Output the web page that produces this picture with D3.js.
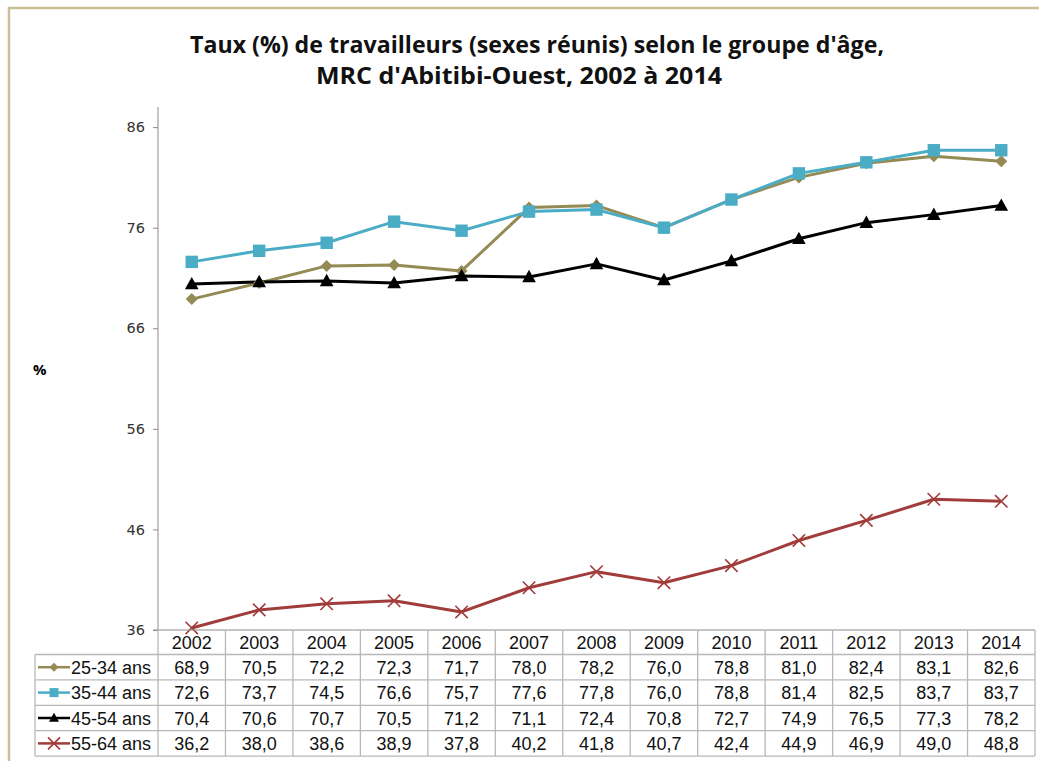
<!DOCTYPE html>
<meta charset="utf-8">
<style>
  body { margin: 0; background: #fff; }
  text { font-family: "Liberation Sans", Arial, sans-serif; }
</style>
<svg width="1039" height="761"></svg>
<script src="https://d3js.org/d3.v7.min.js"></script>
<script>

    var years = [2002, 2003, 2004, 2005, 2006, 2007, 2008, 2009, 2010, 2011, 2012, 2013, 2014];
    var yTicks = [36, 46, 56, 66, 76, 86];
    var seriesNames = ["25-34 ans", "35-44 ans", "45-54 ans", "55-64 ans"];
    var age2534 = [68.9, 70.5, 72.2, 72.3, 71.7, 78.0, 78.2, 76.0, 78.8, 81.0, 82.4, 83.1, 82.6];
    var age3544 = [72.6, 73.7, 74.5, 76.6, 75.7, 77.6, 77.8, 76.0, 78.8, 81.4, 82.5, 83.7, 83.7];
    var age4554 = [70.4, 70.6, 70.7, 70.5, 71.2, 71.1, 72.4, 70.8, 72.7, 74.9, 76.5, 77.3, 78.2];
    var age5564 = [36.2, 38.0, 38.6, 38.9, 37.8, 40.2, 41.8, 40.7, 42.4, 44.9, 46.9, 49.0, 48.8];

    var series = [
        {name: seriesNames[0], values: age2534, color: "#948a54", marker: "diamond"},
        {name: seriesNames[1], values: age3544, color: "#4bacc6", marker: "square"},
        {name: seriesNames[2], values: age4554, color: "#000000", marker: "triangle"},
        {name: seriesNames[3], values: age5564, color: "#a03c3a", marker: "cross"}
    ];

    var svg = d3.select("svg");

    // outer frame
    svg.append("rect")
        .attr("x", 9).attr("y", 8)
        .attr("width", 1060).attr("height", 800)
        .attr("fill", "#fff")
        .attr("stroke", "#c9c09a")
        .attr("stroke-width", 2.5);

    // title
    var title = svg.append("text")
        .attr("text-anchor", "middle")
        .style("font-family", "'Liberation Sans Narrow', 'Open Sans', sans-serif")
        .style("font-weight", "bold")
        .style("font-size", "23px")
        .attr("fill", "#111");
    title.append("tspan").attr("x", 537).attr("y", 53)
        .attr("textLength", 694).attr("lengthAdjust", "spacingAndGlyphs")
        .text("Taux (%) de travailleurs (sexes réunis) selon le groupe d'âge,");
    title.append("tspan").attr("x", 519).attr("y", 84)
        .attr("textLength", 406).attr("lengthAdjust", "spacingAndGlyphs")
        .text("MRC d'Abitibi-Ouest, 2002 à 2014");

    var plotLeft = 158, plotRight = 1035, plotTop = 107, plotBottom = 630;

    var x = d3.scaleBand().domain(years).range([plotLeft, plotRight]);
    var cx = function(d) { return x(d) + x.bandwidth() / 2; };
    var y = d3.scaleLinear().domain([36, 88]).range([plotBottom, plotTop]);

    // y axis
    var yAxis = d3.axisLeft(y).tickValues(yTicks).tickSize(5).tickPadding(8);
    var ga = svg.append("g").attr("transform", "translate(" + plotLeft + ",0)").call(yAxis);
    ga.select(".domain").attr("stroke", "#8c8c8c").attr("d", "M0," + plotTop + "V" + plotBottom);
    ga.selectAll(".tick line").attr("stroke", "#8c8c8c");
    ga.selectAll(".tick text")
        .style("font-family", "'DejaVu Sans', sans-serif")
        .style("font-size", "14.5px")
        .attr("fill", "#333");

    svg.append("text")
        .attr("x", 33).attr("y", 375)
        .style("font-family", "'Open Sans', sans-serif")
        .style("font-weight", "bold")
        .style("font-size", "15px")
        .text("%");

    // marker shapes
    function drawMarker(g, type, color, r) {
        if (type === "diamond") {
            g.append("path").attr("d", "M0," + (-r) + "L" + r + ",0L0," + r + "L" + (-r) + ",0Z")
                .attr("fill", color);
        } else if (type === "square") {
            g.append("rect").attr("x", -r).attr("y", -r).attr("width", 2 * r).attr("height", 2 * r)
                .attr("fill", color);
        } else if (type === "triangle") {
            g.append("path").attr("d", "M0," + (-r * 1.15) + "L" + r * 1.1 + "," + r * 0.85 + "L" + (-r * 1.1) + "," + r * 0.85 + "Z")
                .attr("fill", color);
        } else {
            g.append("path").attr("d", "M" + (-r) + "," + (-r) + "L" + r + "," + r + "M" + (-r) + "," + r + "L" + r + "," + (-r))
                .attr("stroke", color).attr("stroke-width", 1.6).attr("fill", "none");
        }
    }

    var line = d3.line()
        .x(function(d, i) { return cx(years[i]); })
        .y(function(d) { return y(d); });

    var plot = svg.append("g");
    series.forEach(function(s) {
        plot.append("path")
            .datum(s.values)
            .attr("fill", "none")
            .attr("stroke", s.color)
            .attr("stroke-width", 3)
            .attr("stroke-linejoin", "round")
            .attr("d", line);
    });
    series.forEach(function(s) {
        s.values.forEach(function(v, i) {
            var g = plot.append("g").attr("transform", "translate(" + cx(years[i]) + "," + y(v) + ")");
            drawMarker(g, s.marker, s.color, s.marker === "diamond" ? 6 : 6.2);
        });
    });

    // data table
    var rowH = 25.4, headH = 24.5;
    var tableLeft = 35;
    var tbl = svg.append("g");
    var gridColor = "#b8b8b8";
    var rowsTop = plotBottom + headH;
    var tableBottom = rowsTop + rowH * series.length;

    // header year labels
    tbl.selectAll(".yr").data(years).enter().append("text")
        .attr("x", cx).attr("y", plotBottom + 19)
        .attr("text-anchor", "middle")
        .style("font-size", "18px")
        .attr("fill", "#111")
        .text(function(d) { return d; });

    // horizontal lines
    var hLines = [rowsTop];
    series.forEach(function(s, i) { hLines.push(rowsTop + rowH * (i + 1)); });
    tbl.selectAll(".hl").data(hLines).enter().append("line")
        .attr("x1", tableLeft).attr("x2", plotRight)
        .attr("y1", function(d) { return d; }).attr("y2", function(d) { return d; })
        .attr("stroke", gridColor).attr("stroke-width", 1.3);
    tbl.append("line").attr("x1", plotLeft - 5).attr("x2", plotRight).attr("y1", plotBottom).attr("y2", plotBottom)
        .attr("stroke", "#8c8c8c").attr("stroke-width", 1);

    // vertical lines
    var vLines = years.map(function(d) { return x(d); }).concat([plotRight]);
    tbl.selectAll(".vl").data(vLines).enter().append("line")
        .attr("x1", function(d) { return d; }).attr("x2", function(d) { return d; })
        .attr("y1", plotBottom).attr("y2", tableBottom)
        .attr("stroke", gridColor).attr("stroke-width", 1.3);
    tbl.append("line").attr("x1", tableLeft).attr("x2", tableLeft)
        .attr("y1", rowsTop).attr("y2", tableBottom)
        .attr("stroke", gridColor).attr("stroke-width", 1.3);

    // rows
    series.forEach(function(s, i) {
        var ry = rowsTop + rowH * i + rowH / 2;
        var lg = tbl.append("g");
        lg.append("line").attr("x1", 38).attr("x2", 70).attr("y1", ry).attr("y2", ry)
            .attr("stroke", s.color).attr("stroke-width", 2.5);
        var mg = lg.append("g").attr("transform", "translate(54," + ry + ")");
        drawMarker(mg, s.marker, s.color, s.marker === "cross" ? 6 : 4.5);
        lg.append("text").attr("x", 71).attr("y", ry + 6.5)
            .style("font-size", "18px").attr("fill", "#111")
            .text(s.name);
        tbl.selectAll(null).data(s.values).enter().append("text")
            .attr("x", function(d, j) { return cx(years[j]); })
            .attr("y", ry + 6.5)
            .attr("text-anchor", "middle")
            .style("font-size", "18px")
            .attr("fill", "#111")
            .text(function(d) { return d3.format(".1f")(d).replace(".", ","); });
    });
</script>
